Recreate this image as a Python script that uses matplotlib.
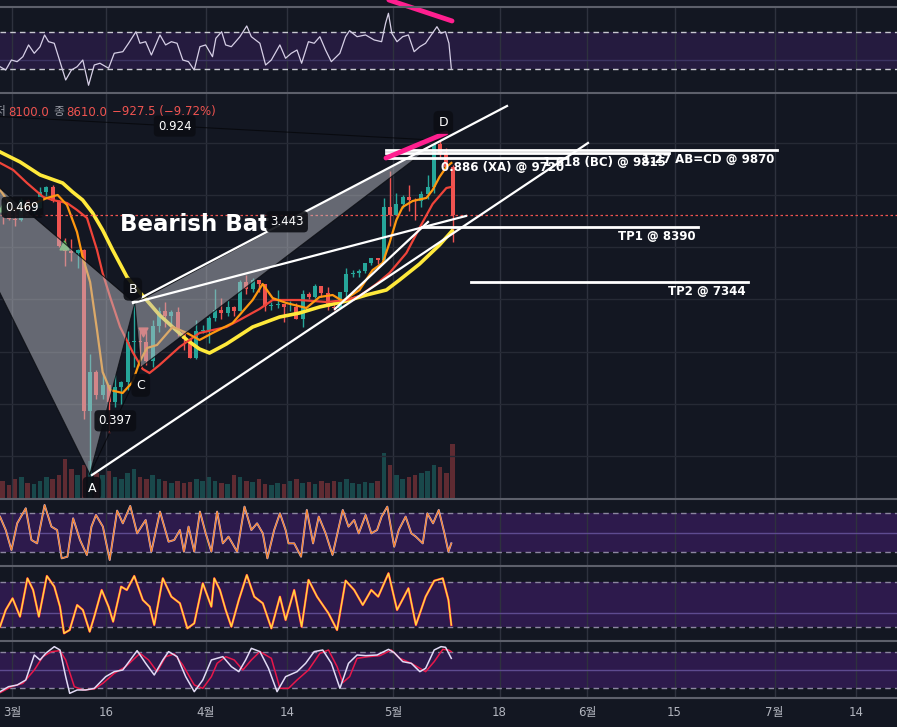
import numpy as np
import matplotlib
matplotlib.use("Agg")
import matplotlib.pyplot as plt
from matplotlib.lines import Line2D
from matplotlib.patches import Polygon

plt.rcParams['font.family'] = ['DejaVu Sans', 'Noto Sans CJK KR']

# x축 단위: 3월 1일 = 0 (일 단위)
tick_day = [0, 15, 31, 44, 61, 78, 92, 106, 122, 135]
tick_text = ['3월', '16', '4월', '14', '5월', '18', '6월', '15', '7월', '14']

# 일봉 (2/28 ~ 5/10)
candle_day = np.arange(-2, 71)
opens = [8785, 8690,
         8540, 8530, 8910, 8760, 8760, 9070, 9150, 8890, 8030, 7930,
         7890, 7940, 4860, 5610, 5170, 5360, 5030, 5330, 5410, 6190,
         6200, 6190, 5830, 6490, 6770, 6690, 6760, 6370, 6250, 5880, 6400,
         6420, 6640, 6800, 6740, 6860, 6780, 7340, 7200, 7370, 7300,
         6870, 6890, 6910, 6850, 6860, 6630, 7100, 7040, 7260, 7130,
         6850, 6840, 7140, 7490, 7510, 7540, 7700, 7790, 7760, 8780,
         8620, 8830, 8970, 8900, 8880, 9030, 9150, 9990, 9810, 9537.5]
highs = [8900, 8800,
         8750, 8950, 8920, 8840, 9160, 9170, 9200, 8900, 8180, 8150,
         7970, 7960, 5950, 5650, 5600, 5370, 5550, 5440, 6400, 6930,
         6450, 6400, 6600, 6850, 6960, 6790, 6860, 6380, 6260, 6600, 6520,
         6680, 7200, 7020, 6990, 6880, 7370, 7460, 7420, 7380, 7300,
         6950, 7190, 6910, 6980, 6930, 7180, 7150, 7300, 7260, 7230,
         6930, 7150, 7600, 7570, 7590, 7700, 7800, 7790, 8950, 9460,
         9050, 9000, 9190, 8950, 9080, 9390, 10000, 10050, 9900, 9570]
lows = [8450, 8530,
        8410, 8500, 8660, 8660, 8760, 8990, 8860, 8000, 7640, 7730,
        7600, 4700, 3650, 5090, 5100, 4440, 4930, 5000, 5260, 5700,
        5860, 5750, 5700, 6380, 6470, 6530, 6300, 6030, 5870, 5860, 6350,
        6160, 6590, 6630, 6680, 6680, 6770, 7100, 7150, 7150, 6780,
        6790, 6830, 6560, 6780, 6620, 6480, 7000, 7020, 7040, 6790,
        6800, 6830, 7030, 7440, 7440, 7500, 7660, 7680, 7740, 8410,
        8620, 8760, 8700, 8530, 8780, 8930, 9050, 9720, 9520, 8100]
closes = [8690, 8540,
          8530, 8910, 8760, 8760, 9070, 9150, 8890, 8030, 7930, 7890,
          7940, 4860, 5610, 5170, 5360, 5030, 5330, 5410, 6190, 6200,
          6190, 5830, 6490, 6770, 6690, 6760, 6370, 6250, 5880, 6400, 6420,
          6640, 6800, 6740, 6860, 6780, 7340, 7200, 7370, 7300, 6870,
          6890, 6910, 6850, 6860, 6630, 7100, 7040, 7260, 7130, 6850,
          6840, 7140, 7490, 7510, 7540, 7700, 7790, 7760, 8780, 8620,
          8830, 8970, 8900, 8880, 9030, 9150, 9990, 9810, 9537.5, 8610]
volumes = [18, 14,
           20, 22, 16, 15, 18, 22, 20, 24, 40, 30,
           24, 34, 38, 26, 24, 28, 22, 20, 26, 30,
           22, 20, 24, 20, 18, 16, 18, 16, 17, 20, 18,
           22, 18, 16, 15, 24, 22, 18, 17, 20, 15,
           14, 16, 15, 18, 20, 16, 17, 15, 18, 16,
           18, 17, 20, 16, 15, 17, 16, 18, 46, 34,
           24, 20, 22, 24, 26, 28, 34, 32, 26, 55]

# 이동평균선
ma_fast_day = [-1.9, -0.8, 0.2, 3.4, 5.6, 7.3, 8.8, 10.4, 11.3, 12.5, 13.6, 14.5, 15.7, 17.7,
               19.3, 20.4, 21.6, 23.2, 25.7, 28.0, 30.0, 32.1, 35.3, 38.5, 40.1, 41.7, 43.9,
               47.1, 49.2, 51.3, 52.9, 55.6, 57.7, 59.3, 60.4, 61.5, 62.5, 64.1, 66.3, 67.3,
               68.4, 69.5, 70.3]
ma_fast_val = [9100, 8907, 8716, 8831, 8946, 9003, 8811, 8294, 7815, 7335, 6415, 5610, 5265, 5208,
               5418, 5802, 6070, 6128, 6473, 6358, 6224, 6358, 6549, 6990, 7297, 7028, 6933,
               6837, 7048, 7086, 6971, 7182, 7565, 7700, 8083, 8524, 8773, 8888, 8946, 9099,
               9348, 9540, 9617]
ma_mid_day = [-1.9, 0.2, 2.4, 5.0, 6.5, 8.8, 10.4, 12.0, 12.5, 13.6, 14.5, 15.7, 17.3, 19.3,
              20.9, 22.0, 23.6, 26.8, 30.0, 34.3, 36.4, 39.6, 41.7, 46.0, 50.3, 53.5, 55.6,
              58.3, 60.4, 63.1, 65.2, 67.3, 69.5, 70.3]
ma_mid_val = [9617, 9482, 9233, 8965, 8907, 8850, 8716, 8562, 8371, 7949, 7508, 7048, 6473, 5993,
              5668, 5591, 5744, 6089, 6358, 6473, 6607, 6818, 6990, 6990, 6952, 6990, 7067,
              7297, 7508, 7891, 8371, 8831, 9137, 9157]
ma_slow_day = [-1.9, 1.3, 4.5, 8.1, 9.7, 11.3, 12.9, 14.5, 16.1, 18.4, 20.4, 23.6, 25.7, 28.0,
               30.0, 31.6, 34.3, 38.5, 42.8, 46.0, 49.2, 53.5, 56.7, 59.9, 62.0, 65.2, 68.4, 70.4]
ma_slow_val = [9827, 9636, 9387, 9233, 9061, 8907, 8658, 8332, 7949, 7431, 7144, 6703, 6473, 6224,
               6051, 5974, 6147, 6473, 6664, 6741, 6856, 6971, 7086, 7182, 7374, 7680, 8045, 8313]

# 상단 RSI
rsi_day = [-1.92, -1.00, -0.09, 0.82, 1.74, 2.65, 3.56, 4.48, 5.21, 5.85, 6.76, 7.68, 8.59, 9.51,
           10.42, 11.33, 12.25, 13.16, 14.07, 15.45, 16.36, 17.73, 18.65, 19.83, 20.47, 21.38,
           22.30, 23.67, 24.58, 25.50, 26.41, 27.33, 28.24, 29.15, 30.07, 30.98, 32.08, 32.62,
           33.54, 34.18, 35.09, 36.47, 37.56, 38.29, 39.66, 40.58, 41.49, 42.86, 43.77, 44.69,
           45.60, 46.34, 47.43, 48.35, 49.26, 50.17, 51.09, 52.46, 53.37, 54.01, 55.21, 56.57,
           57.94, 59.14, 59.77, 60.23, 60.77, 61.60, 62.51, 63.42, 64.34, 65.25, 66.17, 67.08,
           67.99, 68.63, 69.36, 69.91, 70.29]
rsi_val = [32.5, 28.9, 39.7, 37.9, 43.3, 56.0, 47.0, 54.0, 66.8, 59.5, 57.8, 37.9, 18.1, 28.9,
           32.5, 39.7, 12.4, 34.3, 36.2, 30.8, 47.0, 48.7, 57.8, 70.3, 57.8, 59.5,
           45.1, 66.8, 56.0, 59.5, 57.8, 39.7, 37.9, 28.9, 54.1, 56.0, 43.3, 63.2,
           70.3, 56.0, 54.1, 64.9, 76.5, 64.9, 57.8, 34.3, 39.7, 56.0, 41.6, 47.0,
           50.5, 36.2, 59.5, 57.8, 64.9, 50.5, 37.9, 47.0, 64.9, 71.4, 64.9, 66.8,
           61.4, 59.5, 79.4, 90.2, 68.6, 59.5, 64.9, 66.8, 48.7, 54.1, 57.8, 66.8,
           75.7, 68.6, 70.3, 57.8, 30.8]

# 하단 오실레이터 1
p2_day = [-1.92, -1.00, -0.09, 0.83, 2.20, 3.11, 4.02, 5.21, 6.31, 7.22, 7.95, 8.87, 9.78, 10.88,
          11.98, 12.71, 13.44, 14.54, 15.63, 16.82, 17.73, 18.92, 20.02, 21.39, 22.30, 23.68,
          25.05, 25.96, 26.87, 27.51, 28.25, 29.16, 30.07, 30.99, 31.90, 32.82, 33.73, 34.64,
          36.02, 37.20, 38.30, 39.21, 40.13, 40.86, 41.95, 42.87, 43.78, 44.24, 45.15, 46.25,
          47.17, 48.17, 49.08, 50.18, 51.28, 52.92, 53.84, 54.75, 55.48, 56.58, 57.49, 58.41,
          59.14, 60.05, 61.15, 61.88, 62.98, 63.89, 64.62, 65.72, 66.45, 67.37, 68.28, 69.19,
          69.83, 70.29]
p2_val = [74.4, 53.8, 23.1, 64.1, 87.2, 38.5, 33.3, 92.3, 59.0, 53.8, 10.3, 12.8, 71.8, 38.5,
          15.4, 59.0, 76.9, 59.0, 7.7, 83.6, 64.1, 90.8, 48.7, 69.2, 20.5, 82.1,
          35.9, 38.5, 53.8, 20.5, 59.0, 20.5, 82.1, 48.7, 20.5, 82.1, 33.3, 43.6,
          20.5, 89.7, 53.8, 64.1, 48.7, 10.3, 53.8, 79.5, 53.8, 33.3, 33.3, 12.8,
          84.6, 33.3, 74.4, 48.7, 15.4, 84.6, 59.0, 69.2, 48.7, 76.9, 48.7, 53.8,
          74.4, 89.7, 28.2, 53.8, 74.4, 48.7, 43.6, 33.3, 79.5, 64.1, 84.6, 48.7,
          20.5, 33.3]

# 하단 오실레이터 2
p3_day = [-1.92, -1.00, 0.09, 1.28, 2.47, 3.38, 4.30, 5.58, 6.77, 7.68, 8.32, 9.23, 10.42, 11.34,
          12.43, 13.16, 14.35, 15.45, 16.18, 17.46, 18.37, 19.56, 20.93, 22.03, 22.76, 24.13,
          25.50, 26.87, 28.06, 29.16, 30.53, 31.90, 32.36, 33.27, 34.19, 35.10, 36.29, 37.57,
          38.76, 40.13, 41.50, 42.87, 43.78, 45.15, 46.34, 47.44, 48.81, 50.64, 52.01, 53.38,
          54.75, 56.12, 57.49, 58.59, 60.24, 61.61, 63.43, 64.62, 66.18, 67.55, 68.92, 69.83,
          70.29]
p3_val = [20.4, 42.7, 58.2, 33.8, 84.9, 69.3, 33.8, 88.0, 73.8, 47.1, 11.6, 16.0, 49.3, 42.7,
          13.8, 33.8, 69.3, 47.1, 27.1, 73.8, 69.3, 88.0, 56.0, 47.1, 22.7, 84.9,
          60.4, 51.6, 18.2, 24.9, 78.2, 47.1, 84.9, 69.3, 42.7, 20.4, 56.0, 89.3,
          60.4, 51.6, 18.2, 60.4, 29.3, 69.3, 20.4, 82.7, 60.4, 38.2, 16.0, 81.8,
          69.3, 49.3, 69.3, 60.4, 91.6, 42.7, 71.6, 22.7, 60.4, 81.6, 84.9, 56.0,
          22.7]

# 하단 오실레이터 3 (흰색 / 빨간 시그널)
p4w_day = [-1.92, -0.55, 0.83, 2.20, 3.57, 4.48, 5.40, 6.77, 7.68, 8.59, 9.23, 10.42, 11.79,
           13.16, 14.99, 16.36, 17.73, 19.11, 20.02, 21.39, 22.76, 24.13, 25.05, 26.42, 27.79,
           29.16, 30.53, 31.90, 33.73, 35.10, 36.29, 37.38, 38.30, 39.67, 41.04, 42.41, 43.78,
           45.61, 46.98, 48.35, 49.72, 51.10, 52.47, 53.84, 55.21, 56.58, 58.41, 60.24, 61.15,
           62.52, 63.89, 65.26, 66.18, 67.55, 68.64, 69.37, 70.29]
p4w_val = [13.9, 22.2, 25.0, 33.3, 75.0, 66.7, 77.8, 88.9, 83.3, 38.9, 11.1, 16.7, 16.7,
           19.4, 38.9, 47.2, 50.0, 69.4, 82.2, 61.1, 41.7, 66.7, 80.6, 72.2, 38.9,
           13.9, 33.3, 66.7, 72.2, 55.6, 47.2, 66.7, 86.1, 80.6, 52.8, 13.9, 38.9,
           47.2, 61.1, 80.6, 83.3, 61.1, 19.4, 61.1, 75.0, 73.9, 75.0, 84.4, 78.9,
           63.9, 61.1, 47.2, 52.8, 83.3, 88.9, 87.8, 69.4]
p4r_day = [-1.92, -0.09, 1.74, 3.57, 4.94, 6.31, 7.68, 8.59, 9.97, 11.34, 13.16, 14.54, 16.36,
           18.19, 20.48, 21.85, 23.22, 24.59, 25.96, 27.33, 29.16, 30.53, 31.90, 32.82, 34.19,
           35.56, 36.93, 38.30, 39.67, 41.50, 42.87, 44.24, 45.61, 47.44, 49.26, 50.64, 52.01,
           52.92, 54.02, 55.21, 57.04, 58.87, 60.69, 62.06, 63.89, 66.18, 67.55, 68.92, 69.83,
           70.29]
p4r_val = [12.2, 22.2, 27.8, 50.0, 72.2, 80.6, 82.2, 66.7, 22.2, 16.7, 18.3, 27.8, 44.4,
           55.6, 77.8, 66.7, 47.2, 72.2, 76.7, 58.3, 25.0, 19.4, 38.9, 61.1, 72.2,
           66.7, 50.0, 66.7, 80.6, 69.4, 19.4, 19.4, 33.3, 50.0, 77.8, 83.3, 55.6,
           28.9, 38.9, 69.4, 72.2, 73.9, 83.3, 69.4, 61.1, 47.2, 63.9, 84.4, 83.3,
           80.6]

# XABCD 패턴
pat_name = ['X', 'A', 'B', 'C', 'D']
pat_day = [-16.3, 12.46, 19.65, 20.6, 68.37]
pat_price = [10600, 3650, 6930, 5700, 10050]
ratio_pairs = [('X', 'B', '0.469'), ('A', 'C', '0.397'), ('B', 'D', '3.443'), ('X', 'D', '0.924')]

# 추세선
tl_day0 = [12.8, 19.36, 19.36, 51.68]
tl_p0 = [3636, 6952, 6933, 6818]
tl_day1 = [92.16, 79.2, 72.64, 66.56]
tl_p1 = [10000, 10709, 8601, 8486]

# 수평 레벨
lvl_price = [9870, 9815, 9720, 8390, 7344]
lvl_start = [59.84, 59.84, 59.84, 65.6, 73.44]
lvl_end = [122.4, 105.1, 88.8, 109.8, 117.8]
lvl_text = ['1.27 AB=CD @ 9870', '1.618 (BC) @ 9815', '0.886 (XA) @ 9720', 'TP1 @ 8390', 'TP2 @ 7344']

last_close = 8610

W, H = 897, 727
BG = '#131722'
X_MIN, X_MAX = -1.92, 141.6

fig = plt.figure(figsize=(W / 100, H / 100), dpi=100)
fig.patch.set_facecolor(BG)


def panel(top, bottom, ylim):
    ax = fig.add_axes([0, 1 - bottom / H, 1, (bottom - top) / H])
    ax.set_facecolor(BG)
    ax.set_xlim(X_MIN, X_MAX)
    ax.set_ylim(*ylim)
    for sp in ax.spines.values():
        sp.set_visible(False)
    ax.set_xticks(tick_day)
    ax.set_xticklabels([])
    ax.set_yticks([])
    ax.tick_params(length=0)
    ax.grid(axis='x', color='#2e323e', lw=1)
    ax.set_axisbelow(True)
    return ax


def osc_band(ax, lo, hi, mid, fill, dash, midc):
    ax.axhspan(lo, hi, color=fill, lw=0, zorder=0.1)
    for v in (lo, hi):
        ax.axhline(v, color=dash, lw=1, ls=(0, (4, 3)), zorder=1)
    ax.axhline(mid, color=midc, lw=1, zorder=0.9)


# ---- RSI ----
rsi_ax = panel(7, 93, (4.05, 97.0))
osc_band(rsi_ax, 30, 70, 40, '#251b3f', '#c8c8d0', '#3c3462')
rsi_ax.plot(rsi_day, rsi_val, color='#d6cfe6', lw=0.9, zorder=3)
rsi_ax.plot([60.3, 70.4], [104.6, 81.9], color='#ff1f8f', lw=3.5,
            solid_capstyle='round', zorder=5, clip_on=False)

# ---- 메인 가격 차트 ----
main = panel(93, 499, (3176, 10958))
main.set_yticks(range(4000, 10001, 1000))
main.set_yticklabels([])
main.grid(axis='y', color='#262a35', lw=1)
main.patch.set_alpha(0)

vol_ax = main.twinx()
vol_ax.set_ylim(0, 406)
vol_ax.set_yticks([])
for sp in vol_ax.spines.values():
    sp.set_visible(False)
vol_ax.set_zorder(main.get_zorder() - 1)

o = np.array(opens, dtype=float)
h = np.array(highs, dtype=float)
lo = np.array(lows, dtype=float)
c = np.array(closes, dtype=float)
up = c >= o
cols = np.where(up, '#26a69a', '#ef5350')
xc = candle_day + 0.5

vol_ax.bar(xc, volumes, width=0.7, color=cols, alpha=0.35, lw=0)
vol_ax.set_xlim(X_MIN, X_MAX)

main.vlines(xc, lo, h, colors=cols, lw=1, zorder=2)
main.bar(xc, np.maximum(np.abs(c - o), 15), bottom=np.minimum(o, c), width=0.62,
         color=cols, lw=0, zorder=2.1)

main.plot(ma_mid_day, ma_mid_val, color='#f0443a', lw=1.6, zorder=2.5)
main.plot(ma_fast_day, ma_fast_val, color='#ff9810', lw=1.6, zorder=2.6)
main.plot(ma_slow_day, ma_slow_val, color='#ffe93b', lw=2.6, zorder=2.4)

main.axhline(last_close, color='#ef5350', lw=0.9, ls=(0, (2, 2)), zorder=3)

main.scatter([-1.44, 8.3], [8773, 8045], marker='^', s=40, color='#5cc15a', zorder=3)
main.scatter([20.9], [6380], marker='v', s=40, color='#ef5350', zorder=3)

pts = {n: (d, p) for n, d, p in zip(pat_name, pat_day, pat_price)}
for tri in (('X', 'A', 'B'), ('B', 'C', 'D')):
    main.add_patch(Polygon([pts[n] for n in tri], closed=True, fc='#b8bac2',
                           alpha=0.5, ec='none', zorder=4))
for a, b in (('X', 'A'), ('A', 'B'), ('B', 'C'), ('C', 'D')):
    main.plot([pts[a][0], pts[b][0]], [pts[a][1], pts[b][1]], color='#0a0c11',
              lw=0.8, alpha=0.8, zorder=4.5)
for a, b, txt in ratio_pairs:
    main.plot([pts[a][0], pts[b][0]], [pts[a][1], pts[b][1]], color='#06070b',
              lw=0.8, alpha=0.8, zorder=4.5)

for d0, p0, d1, p1 in zip(tl_day0, tl_p0, tl_day1, tl_p1):
    main.plot([d0, d1], [p0, p1], color='white', lw=1.6, zorder=6)

for p, s, e, txt in zip(lvl_price, lvl_start, lvl_end, lvl_text):
    main.plot([s, e], [p, p], color='white', lw=2, zorder=6)
    main.annotate(txt, xy=(e, p), xytext=(-3, -10), textcoords='offset pixels',
                  ha='right', va='center', color='white', fontsize=8.5,
                  fontweight='bold', zorder=7)

main.plot([59.84, 69.44], [9712, 10192], color='#ff1f8f', lw=3.5,
          solid_capstyle='round', zorder=7)

main.text(120 / W, 0.677, 'Bearish Bat', transform=main.transAxes, color='white',
          fontsize=16.5, fontweight='bold', va='center', ha='left', zorder=7.5)

box = dict(boxstyle='round,pad=0.35', fc='#0c0e14', ec='none', alpha=0.9)
for a, b, txt in ratio_pairs:
    md = (pts[a][0] + pts[b][0]) / 2
    mp = (pts[a][1] + pts[b][1]) / 2
    main.text(md, mp, txt, color='white', fontsize=8.5, ha='center', va='center',
              bbox=box, zorder=8)

letter_off = {'A': (2, -14), 'B': (-2, 14), 'C': (0, -18), 'D': (4, 18)}
for n in ['A', 'B', 'C', 'D']:
    main.annotate(n, xy=pts[n], xytext=letter_off[n], textcoords='offset pixels',
                  ha='center', va='center', color='white', fontsize=9,
                  bbox=dict(boxstyle='round,pad=0.4', fc='#0c0e14', ec='none', alpha=0.9),
                  zorder=8)

main.set_xlim(X_MIN, X_MAX)
main.set_ylim(3176, 10958)

# 헤더 (OHLC)
hy = 1 - 112 / H
fig.text(-5 / W, hy, '저', color='#9598a1', fontsize=8.5, va='center')
fig.text(8 / W, hy, '8100.0', color='#ef5350', fontsize=8.5, va='center')
fig.text(53 / W, hy, '종', color='#9598a1', fontsize=8.5, va='center')
fig.text(66 / W, hy, '8610.0', color='#ef5350', fontsize=8.5, va='center')
fig.text(112 / W, hy, '−927.5 (−9.72%)', color='#ef5350', fontsize=8.5, va='center')

# ---- 하단 오실레이터 ----
p2 = panel(499, 566, (-1.5, 101.5))
osc_band(p2, 20, 80, 50, '#2d1a4c', '#8c86a0', '#5e4b90')
p2.plot(p2_day, p2_val, color='#c9b8f0', lw=1.4, zorder=3)
p2.plot(p2_day, p2_val, color='#f5832a', lw=0.9, zorder=3.1)

p3 = panel(566, 641, (1.33, 101.3))
osc_band(p3, 20, 80, 39, '#2d1a4c', '#8c86a0', '#5e4b90')
p3.plot(p3_day, p3_val, color='#ff1744', lw=1.7, zorder=3)
p3.plot(p3_day, p3_val, color='#ffd740', lw=1.1, zorder=3.1)

p4 = panel(641, 698, (3.33, 98.3))
osc_band(p4, 20, 80, 50, '#2d1a4c', '#8c86a0', '#5e4b90')
p4.plot(p4r_day, p4r_val, color='#e8174a', lw=1.1, zorder=3)
p4.plot(p4w_day, p4w_val, color='#e2dbf5', lw=1.1, zorder=3.1)
p4.set_xticklabels(tick_text)
p4.tick_params(labelbottom=True, labelsize=8.5, labelcolor='#b2b5be', pad=6)

for y in [7, 93, 499, 566, 641, 698]:
    fig.add_artist(Line2D([0, 1], [1 - y / H] * 2, color='#5d606b', lw=1.5))

fig.savefig('out.png', dpi=100, facecolor=BG)
